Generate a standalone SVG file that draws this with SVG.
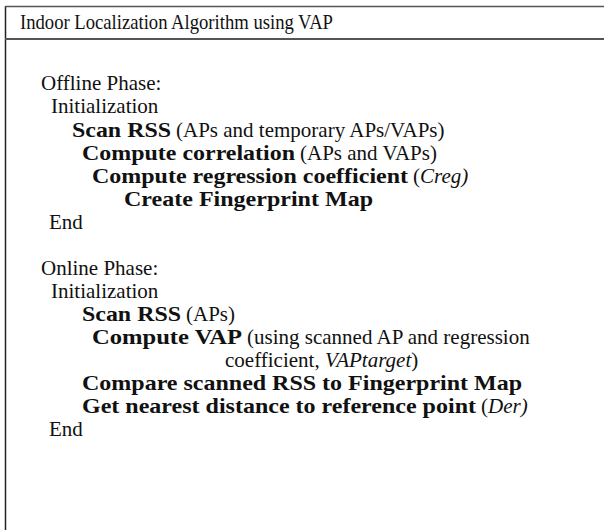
<svg xmlns="http://www.w3.org/2000/svg" width="604" height="530" viewBox="0 0 604 530">
<style>
text{font-family:"Liberation Serif","Times New Roman",serif;font-size:21px;fill:#111}
.b{font-weight:bold}
.i{font-style:italic}
.frame{stroke:#555;fill:none}
</style>
<rect x="0" y="0" width="604" height="530" fill="#fff"/>
<g id="frame">
<line x1="5.5" y1="6" x2="5.5" y2="530" stroke-width="1.5" stroke="#222"/>
<line class="frame" x1="5" y1="6.5" x2="604" y2="6.5" stroke-width="1.5"/>
<line class="frame" x1="5" y1="39" x2="604" y2="39" stroke-width="2"/>
</g>
<g id="title"><text x="20" y="29" textLength="313" lengthAdjust="spacingAndGlyphs">Indoor Localization Algorithm using VAP</text></g>
<g id="offline">
<text x="41" y="90">Offline Phase:</text>
<text x="51" y="113">Initialization</text>
<text x="72" y="137" class="b" textLength="99" lengthAdjust="spacingAndGlyphs">Scan RSS</text>
<text x="176" y="137">(APs and temporary APs/VAPs)</text>
<text x="82" y="160" class="b" textLength="213" lengthAdjust="spacingAndGlyphs">Compute correlation</text>
<text x="300" y="160">(APs and VAPs)</text>
<text x="92" y="183" class="b" textLength="316" lengthAdjust="spacingAndGlyphs">Compute regression coefficient</text>
<text x="413" y="183">(<tspan class="i">Creg)</tspan></text>
<text x="124" y="206" class="b" textLength="249" lengthAdjust="spacingAndGlyphs">Create Fingerprint Map</text>
<text x="49" y="229">End</text>
</g>
<g id="online">
<text x="41" y="275">Online Phase:</text>
<text x="51" y="298">Initialization</text>
<text x="82" y="321" class="b" textLength="99" lengthAdjust="spacingAndGlyphs">Scan RSS</text>
<text x="186" y="321">(APs)</text>
<text x="92" y="344" class="b" textLength="150" lengthAdjust="spacingAndGlyphs">Compute VAP</text>
<text x="247" y="344">(using scanned AP and regression</text>
<text x="225" y="367">coefficient, <tspan class="i">VAPtarget</tspan>)</text>
<text x="82" y="390" class="b" textLength="440" lengthAdjust="spacingAndGlyphs">Compare scanned RSS to Fingerprint Map</text>
<text x="82" y="413" class="b" textLength="394" lengthAdjust="spacingAndGlyphs">Get nearest distance to reference point</text>
<text x="481" y="413">(<tspan class="i">Der)</tspan></text>
<text x="49" y="436">End</text>
</g>
</svg>
